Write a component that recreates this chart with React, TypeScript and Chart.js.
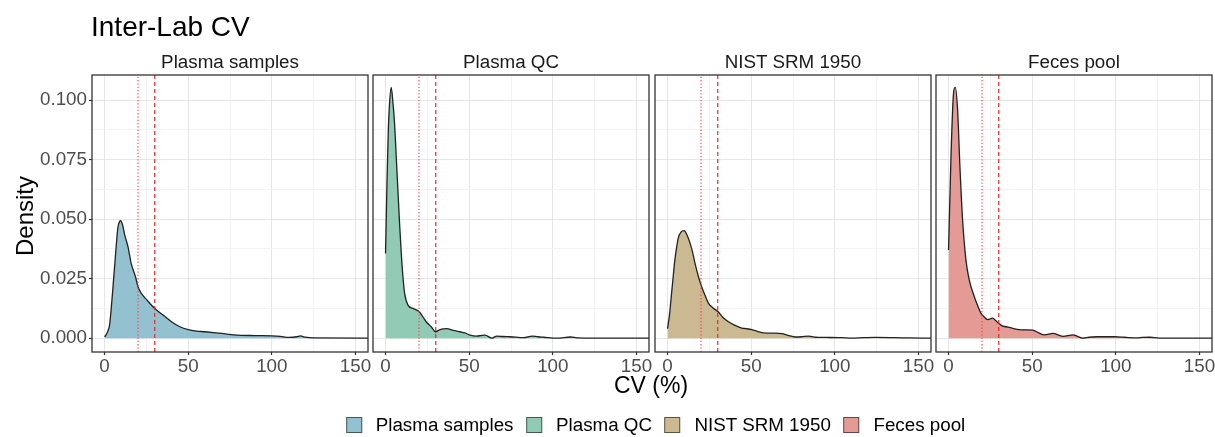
import React, { useEffect, useRef } from 'react';
import { Chart, registerables } from 'chart.js';

Chart.register(...registerables);

// ---------------- data ----------------
const TITLE = 'Inter-Lab CV';
const X_TITLE = 'CV (%)';
const Y_TITLE = 'Density';
const PANEL_NAMES = ['Plasma samples', 'Plasma QC', 'NIST SRM 1950', 'Feces pool'];
const FILL_COLORS = ['rgb(147,193,208)', 'rgb(146,203,181)', 'rgb(203,186,145)', 'rgb(228,155,149)'];

const X_TICKS = [0, 25, 50, 75, 100, 125, 150];
const Y_TICKS = [0, 0.0125, 0.025, 0.0375, 0.05, 0.0625, 0.075, 0.0875, 0.1];
const X_RANGE = [-7.5, 157.5];
const Y_RANGE = [-0.0058, 0.1105];
const THRESHOLD_DOTTED = 20;
const THRESHOLD_DASHED = 30;

const plasmaSamplesX = [0, 1, 2, 3, 4, 5, 6, 7, 8, 9, 9.6, 10.8, 12, 14, 15.9, 18.5, 20, 22, 25, 30, 35, 40, 45, 50, 55, 60, 70, 80, 90, 100, 105, 110, 115, 117, 120, 125, 157.5];
const plasmaSamplesY = [0.0005, 0.0015, 0.003, 0.0055, 0.0125, 0.021, 0.03, 0.039, 0.0465, 0.049, 0.0493, 0.0475, 0.0435, 0.0384, 0.0314, 0.0258, 0.0216, 0.0188, 0.0163, 0.0125, 0.0097, 0.0069, 0.0048, 0.0036, 0.003, 0.0027, 0.002, 0.0013, 0.0011, 0.001, 0.0008, 0.0003, 0.0006, 0.001, 0.0004, 0.0001, 0];

const plasmaQcX = [0, 0.8, 1.6, 2.4, 3.4, 4.4, 5.4, 6.4, 7.4, 8.4, 9.4, 10.4, 11.4, 13.4, 16.4, 20.3, 22.3, 24.3, 27.3, 29.9, 32.5, 36.5, 40.5, 44.5, 47.5, 50.5, 54.5, 57, 59.5, 63.5, 66.5, 70, 74.6, 82.6, 87.6, 91, 94.6, 102.6, 110.6, 114.6, 125, 157.5];
const plasmaQcY = [0.0356, 0.0636, 0.086, 0.0986, 0.1053, 0.099, 0.09, 0.076, 0.062, 0.048, 0.0356, 0.0258, 0.0188, 0.0139, 0.0125, 0.011, 0.009, 0.0069, 0.0048, 0.0027, 0.0036, 0.004, 0.0033, 0.0027, 0.0022, 0.0013, 0.0009, 0.0011, 0.0013, 0.0, 0.0009, 0.0007, 0.0006, 0.0002, 0.0009, 0.0006, 0.0004, 0.0, 0.0005, 0.0001, 0.0, 0.0];

const nistX = [0, 1.2, 2.4, 3.4, 4.4, 5.4, 6.4, 8, 10, 11.5, 13.4, 15, 16.4, 18.4, 20.4, 22.4, 24.4, 27, 30.4, 33, 36.4, 40, 44.4, 47, 50.4, 54, 57.4, 63, 68.4, 72, 76.4, 80, 84.4, 88.4, 95, 104, 110, 117, 124, 136, 144, 157.5];
const nistY = [0.004, 0.01, 0.0188, 0.026, 0.033, 0.038, 0.042, 0.0445, 0.0452, 0.0435, 0.04, 0.036, 0.0315, 0.026, 0.0216, 0.018, 0.0147, 0.0128, 0.011, 0.0088, 0.0069, 0.0055, 0.0042, 0.004, 0.0036, 0.0028, 0.0022, 0.0021, 0.0019, 0.0012, 0.0005, 0.0006, 0.0009, 0.0004, 0.0003, 0.0002, 0.0, 0.0002, 0.0003, 0.0002, 0.0001, 0.0];

const fecesX = [0, 1.4, 3, 4, 5.4, 6.8, 8.4, 10.4, 12.4, 15.4, 17.5, 19.4, 21.5, 23.4, 26.4, 28, 30, 32, 34.4, 38, 42.4, 46, 50.4, 54, 57.4, 62.4, 68.4, 74.4, 77, 80.4, 84, 88.4, 99.4, 105, 112.4, 116, 120.4, 126, 157.5];
const fecesY = [0.037, 0.0748, 0.103, 0.1053, 0.096, 0.072, 0.0496, 0.0328, 0.0244, 0.0174, 0.0135, 0.0104, 0.0088, 0.0078, 0.0084, 0.0075, 0.0062, 0.0052, 0.0048, 0.0042, 0.0036, 0.0035, 0.0034, 0.0022, 0.0014, 0.002, 0.0008, 0.0014, 0.0008, 0.0, 0.0004, 0.0006, 0.0006, 0.0004, 0.0001, 0.0003, 0.0004, 0.0, 0.0];

const SERIES_X = [plasmaSamplesX, plasmaQcX, nistX, fecesX];
const SERIES_Y = [plasmaSamplesY, plasmaQcY, nistY, fecesY];

// ---------------- layout / style ----------------
const W = 1215;
const H = 437;
const PANEL_LEFTS = [92, 373, 655, 936];
const PANEL_W = 276;
const PANEL_TOP = 75;
const PANEL_BOTTOM = 352;
const X_AXIS_H = 30;
const FONT = '"Liberation Sans", Arial, Helvetica, sans-serif';
const TICK_SIZE = 18.8;

const isMajorX = (v: number) => Math.abs(v / 50 - Math.round(v / 50)) < 1e-6;
const isMajorY = (v: number) => Math.abs(v / 0.025 - Math.round(v / 0.025)) < 1e-6;

const borderPlugin = {
  id: 'panelBorder',
  afterDatasetsDraw(chart: any) {
    const { ctx, chartArea: a } = chart;
    ctx.save();
    ctx.strokeStyle = '#333333';
    ctx.lineWidth = 1.3;
    ctx.strokeRect(a.left, a.top, a.right - a.left, a.bottom - a.top);
    ctx.restore();
  },
};

function Panel({ idx }: { idx: number }) {
  const ref = useRef<HTMLCanvasElement>(null);
  useEffect(() => {
    const canvas = ref.current;
    if (!canvas) return;
    const left = PANEL_LEFTS[idx];
    const right = left + PANEL_W;
    const first = idx === 0;
    const xs = SERIES_X[idx];
    const ys = SERIES_Y[idx];

    const vline = (x: number, dash: number[], color: string) => ({
      type: 'line' as const,
      data: [{ x, y: Y_RANGE[0] }, { x, y: Y_RANGE[1] }],
      borderColor: color,
      borderWidth: 1.2,
      borderDash: dash,
      pointRadius: 0,
      fill: false,
      order: 0,
    });

    const chart = new Chart(canvas, {
      type: 'line',
      data: {
        datasets: [
          vline(THRESHOLD_DOTTED, [1.3, 2], 'rgba(255,60,60,0.9)'),
          vline(THRESHOLD_DASHED, [4, 3], 'rgba(240,30,30,0.95)'),
          {
            type: 'line',
            label: PANEL_NAMES[idx],
            data: xs.map((x, i) => ({ x, y: ys[i] })),
            borderColor: '#222222',
            borderWidth: 1.3,
            backgroundColor: FILL_COLORS[idx],
            fill: 'origin',
            pointRadius: 0,
            cubicInterpolationMode: 'monotone',
            order: 1,
          },
        ],
      },
      options: {
        responsive: false,
        animation: false,
        events: [],
        layout: {
          padding: {
            left: first ? 0 : left,
            right: W - right,
            top: PANEL_TOP,
            bottom: H - PANEL_BOTTOM - X_AXIS_H,
          },
        },
        plugins: {
          legend: { display: false },
          tooltip: { enabled: false },
          title: { display: false },
        },
        scales: {
          x: {
            type: 'linear',
            min: X_RANGE[0],
            max: X_RANGE[1],
            afterBuildTicks: (ax: any) => {
              ax.ticks = X_TICKS.map((v) => ({ value: v }));
            },
            afterFit: (ax: any) => {
              ax.height = X_AXIS_H;
              ax.paddingLeft = 0;
              ax.paddingRight = 0;
            },
            ticks: {
              autoSkip: false,
              maxRotation: 0,
              padding: 1,
              color: '#4d4d4d',
              font: { family: FONT, size: TICK_SIZE },
              callback: (v: any) => (isMajorX(Number(v)) ? String(v) : ''),
            },
            grid: {
              color: (c: any) => (isMajorX(c.tick?.value ?? 0) ? '#e6e6e6' : '#f3f3f3'),
              lineWidth: 1,
              tickLength: 3,
              tickWidth: 1.2,
              tickColor: (c: any) => (isMajorX(c.tick?.value ?? 0) ? '#333333' : 'rgba(0,0,0,0)'),
            },
            border: { display: false },
          },
          y: {
            type: 'linear',
            min: Y_RANGE[0],
            max: Y_RANGE[1],
            afterBuildTicks: (ax: any) => {
              ax.ticks = Y_TICKS.map((v) => ({ value: v }));
            },
            afterFit: (ax: any) => {
              ax.width = first ? left : 0;
              ax.paddingTop = 0;
              ax.paddingBottom = 0;
            },
            ticks: {
              display: first,
              padding: 2,
              color: '#4d4d4d',
              font: { family: FONT, size: TICK_SIZE },
              callback: (v: any) => (isMajorY(Number(v)) ? Number(v).toFixed(3) : ''),
            },
            grid: {
              color: (c: any) => (isMajorY(c.tick?.value ?? 0) ? '#e6e6e6' : '#f3f3f3'),
              lineWidth: 1,
              drawTicks: first,
              tickLength: 3,
              tickWidth: 1.2,
              tickColor: (c: any) => (isMajorY(c.tick?.value ?? 0) ? '#333333' : 'rgba(0,0,0,0)'),
            },
            border: { display: false },
          },
        },
      } as any,
      plugins: [borderPlugin],
    });
    return () => chart.destroy();
  }, [idx]);
  return (
    <canvas
      ref={ref}
      width={W}
      height={H}
      style={{ position: 'absolute', left: 0, top: 0, width: W, height: H }}
    />
  );
}

export default function App() {
  useEffect(() => {
    document.body.style.margin = '0';
  }, []);
  const abs = { position: 'absolute' as const, whiteSpace: 'nowrap' as const };
  return (
    <div
      style={{
        position: 'absolute',
        left: 0,
        top: 0,
        width: W,
        height: H,
        overflow: 'hidden',
        background: '#ffffff',
        fontFamily: FONT,
      }}
    >
      {PANEL_NAMES.map((_, i) => (
        <Panel key={i} idx={i} />
      ))}
      <div style={{ ...abs, left: 91, top: 13, fontSize: 28, lineHeight: '28px', color: '#000' }}>{TITLE}</div>
      {PANEL_NAMES.map((n, i) => (
        <div
          key={n}
          style={{
            ...abs,
            left: PANEL_LEFTS[i],
            width: PANEL_W,
            top: 52.8,
            fontSize: TICK_SIZE,
            lineHeight: `${TICK_SIZE}px`,
            textAlign: 'center',
            color: '#1a1a1a',
          }}
        >
          {n}
        </div>
      ))}
      <div
        style={{
          ...abs,
          left: 24.7 - 100,
          top: 216 - 12,
          width: 200,
          height: 24,
          fontSize: 24,
          lineHeight: '24px',
          textAlign: 'center',
          transform: 'rotate(-90deg)',
          color: '#000',
        }}
      >
        {Y_TITLE}
      </div>
      <div
        style={{
          ...abs,
          left: 551,
          width: 200,
          top: 373.5,
          fontSize: 23,
          lineHeight: '23px',
          textAlign: 'center',
          color: '#000',
        }}
      >
        {X_TITLE}
      </div>
      <div
        style={{
          ...abs,
          left: 655.5,
          top: 416,
          transform: 'translateX(-50%)',
          display: 'flex',
          alignItems: 'center',
        }}
      >
        {PANEL_NAMES.map((n, i) => (
          <div key={n} style={{ display: 'flex', alignItems: 'center', marginLeft: i ? 12.5 : 0 }}>
            <span
              style={{
                display: 'inline-block',
                width: 16,
                height: 16,
                boxSizing: 'border-box',
                background: FILL_COLORS[i],
                border: '1px solid rgba(0,0,0,0.55)',
              }}
            />
            <span style={{ marginLeft: 14, fontSize: TICK_SIZE, lineHeight: `${TICK_SIZE}px`, color: '#000' }}>{n}</span>
          </div>
        ))}
      </div>
    </div>
  );
}
